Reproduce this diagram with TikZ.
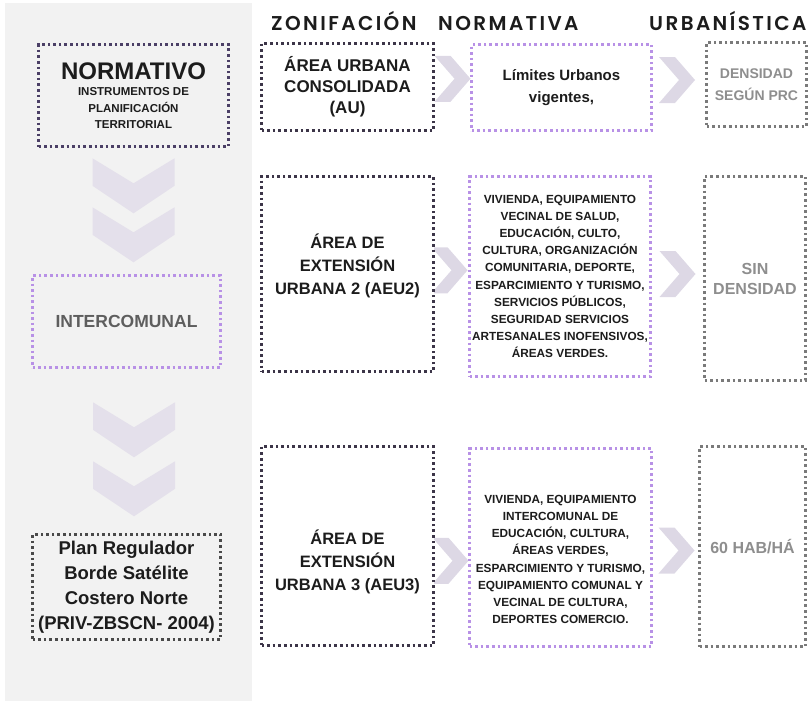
\documentclass[tikz,border=0pt]{standalone}
\usepackage{fontspec}
\setmainfont{Liberation Sans}
\newfontfamily\headfont[LetterSpace=12,UprightFont={* SemiBold}]{Poppins}
\usetikzlibrary{positioning, calc, backgrounds}

\definecolor{panelgray}{HTML}{F2F2F2}
\definecolor{darkdot}{HTML}{3C3548}
\definecolor{normdot}{HTML}{4B3F66}
\definecolor{plandot}{HTML}{4A4A4A}
\definecolor{lilacdot}{HTML}{B891E6}
\definecolor{graydot}{HTML}{7A7A7A}
\definecolor{chevfill}{HTML}{DDD8E5}
\definecolor{chevleft}{HTML}{E4E0EB}
\definecolor{inktext}{HTML}{1C1C1C}
\definecolor{softtext}{HTML}{8E8E8E}
\definecolor{midtext}{HTML}{5E5E5E}

\newcommand{\fs}[2]{\fontsize{#1}{#2}\selectfont}

\begin{document}
\begin{tikzpicture}[
    x=1pt, y=-1pt,
    dotbox/.style={draw, line width=2.6pt, dash pattern=on 2.6pt off 3pt, fill=white,
        inner sep=2pt, align=center, text=inktext},
    darkbox/.style={dotbox, draw=darkdot},
    lilacbox/.style={dotbox, draw=lilacdot},
    graybox/.style={dotbox, draw=graydot, text=softtext},
    boxtxt/.style={align=center, text=inktext, inner sep=0pt},
    headtxt/.style={anchor=base west, inner sep=0pt, text=inktext, font=\headfont\fs{20}{22}},
    chevright/.pic={\fill[chevfill] (-18,-23) -- (-2,-23) -- (18,0) -- (-2,23) -- (-18,23) -- (2,0) -- cycle;},
    chevdown/.pic={\fill[chevleft] (-41,-27.5) -- (0,-2.5) -- (41,-27.5) -- (41,0) -- (0,27.5) -- (-41,0) -- cycle;}
]
    \useasboundingbox (0,0) rectangle (811,704);

    % Column headers
    \node[headtxt] (hzon) at (271,30) {ZONIFACIÓN};
    \node[headtxt] (hnor) at (438,30) {NORMATIVA};
    \node[headtxt] (hurb) at (649,30) {URBANÍSTICA};

    % Left column
    \node[darkbox, draw=normdot, fill=panelgray, minimum width=190, minimum height=102,
        font=\bfseries\fs{11.5}{16.5}] (norm) at (133.5,95.5)
        {\fs{24}{26}NORMATIVO\\INSTRUMENTOS DE\\PLANIFICACIÓN\\TERRITORIAL};
    \node[lilacbox, fill=panelgray, text=midtext, minimum width=188, minimum height=92,
        font=\bfseries\fs{17.5}{20}] (inter) at (126.5,321.5) {INTERCOMUNAL};
    \node[darkbox, draw=plandot, fill=panelgray, minimum width=188, minimum height=105,
        font=\bfseries\fs{18.5}{25}] (plan) at (126.5,587)
        {Plan Regulador\\Borde Satélite\\Costero Norte\\(PRIV-ZBSCN- 2004)};

    % Row 1
    \node[darkbox, minimum width=172, minimum height=87, font=\bfseries\fs{17}{21}] (au) at (347.5,87)
        {ÁREA URBANA\\CONSOLIDADA\\(AU)};
    \node[lilacbox, minimum width=180, minimum height=86, font=\bfseries\fs{15}{22}] (lim) at (561.5,87.5)
        {Límites Urbanos\\vigentes,};
    \node[graybox, minimum width=100, minimum height=84, font=\bfseries\fs{14}{22}] (dens) at (756.5,84.5)
        {DENSIDAD\\SEGÚN PRC};

    % Row 2
    \node[darkbox, minimum width=172, minimum height=195] (aeu2) at (347.5,274) {};
    \node[boxtxt, font=\bfseries\fs{16.5}{23}] (aeu2txt) at ([yshift=8pt]aeu2.center)
        {ÁREA DE\\EXTENSIÓN\\URBANA 2 (AEU2)};
    \node[lilacbox, minimum width=181, minimum height=200, font=\bfseries\fs{11.8}{17.2}] (use2) at (560,276.5)
        {VIVIENDA, EQUIPAMIENTO\\VECINAL DE SALUD,\\EDUCACIÓN, CULTO,\\CULTURA, ORGANIZACIÓN\\COMUNITARIA, DEPORTE,\\ESPARCIMIENTO Y TURISMO,\\SERVICIOS PÚBLICOS,\\SEGURIDAD SERVICIOS\\ARTESANALES INOFENSIVOS,\\ÁREAS VERDES.};
    \node[graybox, minimum width=101, minimum height=204, font=\bfseries\fs{16}{20}] (sin) at (755,278.5)
        {SIN\\DENSIDAD};

    % Row 3
    \node[darkbox, minimum width=172, minimum height=199] (aeu3) at (347.5,546) {};
    \node[boxtxt, font=\bfseries\fs{16.5}{23}] (aeu3txt) at ([yshift=-16pt]aeu3.center)
        {ÁREA DE\\EXTENSIÓN\\URBANA 3 (AEU3)};
    \node[lilacbox, minimum width=182, minimum height=198] (use3) at (560.5,547.5) {};
    \node[boxtxt, font=\bfseries\fs{11.8}{17.2}] (use3txt) at ([yshift=-12pt]use3.center)
        {VIVIENDA, EQUIPAMIENTO\\INTERCOMUNAL DE\\EDUCACIÓN, CULTURA,\\ÁREAS VERDES,\\ESPARCIMIENTO Y TURISMO,\\EQUIPAMIENTO COMUNAL Y\\VECINAL DE CULTURA,\\DEPORTES COMERCIO.};
    \node[graybox, minimum width=106, minimum height=200, font=\bfseries\fs{16}{20}] (hab) at (752.5,546.5)
        {60 HAB/HÁ};

    % Panel and chevrons behind the boxes
    \begin{pgfonlayer}{background}
        \fill[panelgray] (5,3) rectangle (252,701);
        \pic at ($(norm.south)+(0,38)$) {chevdown};
        \pic at ($(norm.south)+(0,87)$) {chevdown};
        \pic at ($(inter.south)+(7.5,61)$) {chevdown};
        \pic at ($(inter.south)+(7.5,120)$) {chevdown};
        \pic at ($(au.east)!.5!(lim.west)+(0,-8.5)$) {chevright};
        \pic at ($(lim.east)!.5!(dens.west)+(-2,-6)$) {chevright};
        \pic at ($(aeu2.east)!.5!(use2.west)+(-2,-5)$) {chevright};
        \pic at ($(use2.east)!.5!(sin.west)+(0,-3.5)$) {chevright};
        \pic at ($(aeu3.east)!.5!(use3.west)+(-1,14)$) {chevright};
        \pic at ($(use3.east)!.5!(hab.west)+(1,3.5)$) {chevright};
    \end{pgfonlayer}

\end{tikzpicture}
\end{document}
